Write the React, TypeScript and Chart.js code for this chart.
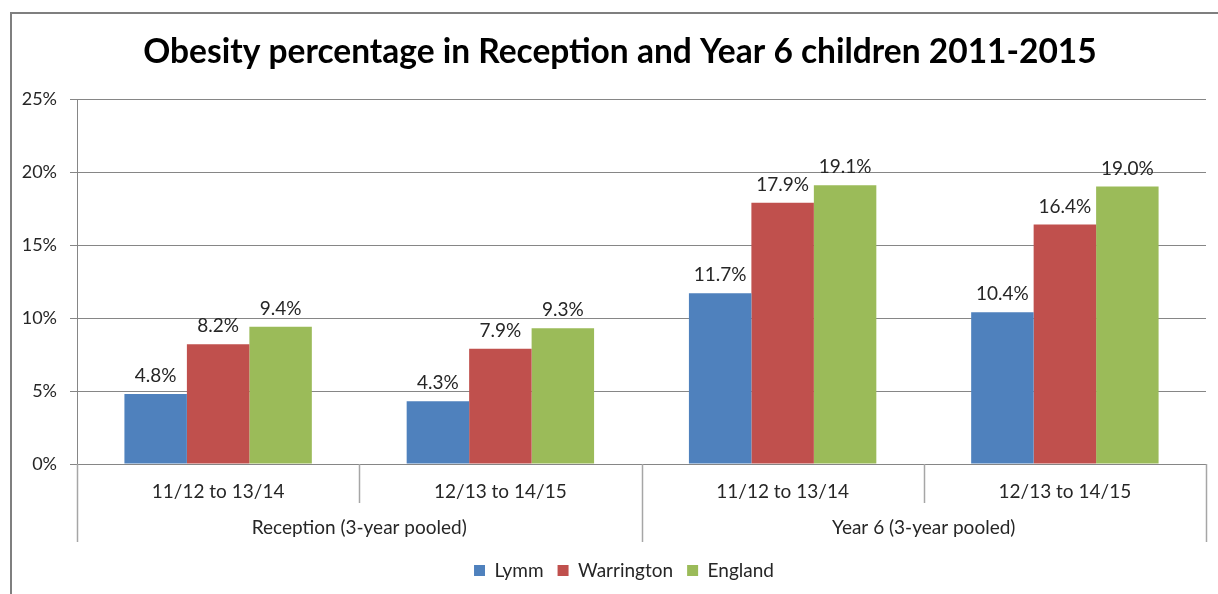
import React, { useEffect, useRef } from "react";
import { Chart, registerables } from "chart.js";

Chart.register(...registerables);

const categories = ["11/12 to 13/14", "12/13 to 14/15", "11/12 to 13/14", "12/13 to 14/15"];
const groups = ["Reception (3-year pooled)", "Year 6 (3-year pooled)"];
const lymm = [4.8, 4.3, 11.7, 10.4];
const warrington = [8.2, 7.9, 17.9, 16.4];
const england = [9.4, 9.3, 19.1, 19.0];
const yTicks = [0, 5, 10, 15, 20, 25];
const titleText = "Obesity percentage in Reception and Year 6 children 2011-2015";

const FONT = "Lato, 'Open Sans', sans-serif";

export default function App() {
  const ref = useRef<HTMLCanvasElement | null>(null);
  useEffect(() => {
    if (!ref.current) return;
    const custom = {
      id: "custom",
      afterLayout(chart: any) {
        if (chart.legend) {
          chart.legend.left += 21;
          chart.legend.right += 21;
        }
      },
      afterDraw(chart: any) {
        const ctx = chart.ctx;
        const ca = chart.chartArea;
        const x = chart.scales.x;
        ctx.save();
        // outer border
        ctx.strokeStyle = "#7f7f7f";
        ctx.lineWidth = 2;
        ctx.beginPath();
        ctx.moveTo(11, 600);
        ctx.lineTo(11, 13);
        ctx.lineTo(1230, 13);
        ctx.stroke();
        // title
        ctx.fillStyle = "#000";
        ctx.font = `bold 33.5px ${FONT}`;
        ctx.textAlign = "center";
        ctx.textBaseline = "middle";
        ctx.fillText(titleText, 620, 52);
        // separators
        const n = categories.length;
        const pos: number[] = [];
        for (let i = 0; i <= n; i++) {
          let px;
          if (i === 0) px = ca.left;
          else if (i === n) px = ca.right;
          else px = (x.getPixelForValue(i - 1) + x.getPixelForValue(i)) / 2;
          pos.push(px);
        }
        ctx.strokeStyle = "#a6a6a6";
        ctx.lineWidth = 1.5;
        for (let i = 0; i <= n; i++) {
          const long = i % 2 === 0;
          ctx.beginPath();
          ctx.moveTo(Math.round(pos[i]) + 0.5, ca.bottom);
          ctx.lineTo(Math.round(pos[i]) + 0.5, ca.bottom + (long ? 78 : 39));
          ctx.stroke();
        }
        // group labels
        ctx.fillStyle = "#262626";
        ctx.font = `19px ${FONT}`;
        for (let g = 0; g < groups.length; g++) {
          const cx = (pos[g * 2] + pos[g * 2 + 2]) / 2;
          ctx.fillText(groups[g], cx, ca.bottom + 64);
        }
        // data labels
        ctx.textBaseline = "alphabetic";
        chart.data.datasets.forEach((ds: any, di: number) => {
          const meta = chart.getDatasetMeta(di);
          meta.data.forEach((bar: any, i: number) => {
            ctx.fillText(ds.data[i].toFixed(1) + "%", bar.x, bar.y - 12);
          });
        });
        ctx.restore();
      },
    };
    const chart = new Chart(ref.current, {
      type: "bar",
      data: {
        labels: categories,
        datasets: [
          { label: "Lymm", data: lymm, backgroundColor: "#4F81BD" },
          { label: "Warrington", data: warrington, backgroundColor: "#C0504D" },
          { label: "England", data: england, backgroundColor: "#9BBB59" },
        ],
      },
      options: {
        animation: false,
        responsive: false,
        layout: { padding: { top: 99, right: 12, left: 0, bottom: 4 } },
        datasets: { bar: { categoryPercentage: 0.664, barPercentage: 1.0, borderWidth: 0 } },
        plugins: {
          title: { display: false },
          tooltip: { enabled: false },
          legend: {
            position: "bottom",
            labels: {
              boxWidth: 11,
              boxHeight: 11,
              padding: 14,
              color: "#262626",
              font: { family: FONT, size: 19 },
            },
          },
        },
        scales: {
          x: {
            grid: { display: false },
            border: { display: true, color: "#868686" },
            ticks: { color: "#262626", font: { family: FONT, size: 19 }, padding: 8, maxRotation: 0 },
            afterFit(scale: any) {
              scale.height = 83;
            },
          },
          y: {
            min: 0,
            max: 25,
            afterBuildTicks(scale: any) {
              scale.ticks = yTicks.map((v) => ({ value: v }));
            },
            afterFit(scale: any) {
              scale.width = 77;
            },
            grid: { color: "#868686", tickLength: 7 },
            border: { display: true, color: "#868686" },
            ticks: {
              color: "#262626",
              font: { family: FONT, size: 18 },
              padding: 13,
              callback: (v: any) => v + "%",
            },
          },
        },
      },
      plugins: [custom],
    });
    return () => chart.destroy();
  }, []);
  return (
    <div style={{ position: "fixed", left: 0, top: 0, width: 1218, height: 594, background: "#fff" }}>
      <canvas ref={ref} width={1218} height={594} />
    </div>
  );
}
